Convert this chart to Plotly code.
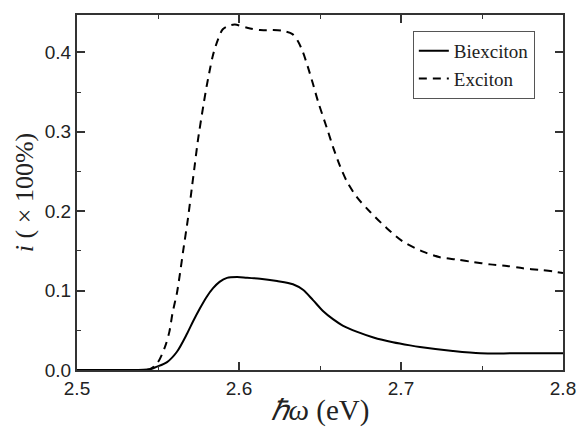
import plotly.graph_objects as go

bi_x = [2.500, 2.530, 2.545, 2.549, 2.5556, 2.5617, 2.568, 2.5716, 2.576, 2.580, 2.584, 2.588,
        2.5926, 2.5988, 2.605, 2.613, 2.6235, 2.6333, 2.6395, 2.6457, 2.652, 2.658, 2.664,
        2.673, 2.683, 2.695, 2.7056, 2.7117, 2.732, 2.749, 2.770, 2.800]
bi_y = [0.0, 0.0, 0.001, 0.004, 0.010, 0.023, 0.046, 0.061, 0.078, 0.092, 0.103, 0.111,
        0.116, 0.117, 0.116, 0.115, 0.112, 0.108, 0.101, 0.088, 0.074, 0.064, 0.056,
        0.048, 0.041, 0.035, 0.031, 0.029, 0.024, 0.021, 0.021, 0.021]

ex_x = [2.500, 2.530, 2.545, 2.550, 2.5543, 2.557, 2.559, 2.5617, 2.5636, 2.5654, 2.5685,
        2.571, 2.5728, 2.5747, 2.578, 2.580, 2.582, 2.584, 2.587, 2.590, 2.5944, 2.5975,
        2.605, 2.613, 2.621, 2.627, 2.633, 2.6364, 2.6395, 2.6426, 2.6457, 2.6488, 2.655,
        2.658, 2.6623, 2.6667, 2.673, 2.681, 2.691, 2.701, 2.7136, 2.724, 2.7346, 2.7444,
        2.755, 2.7654, 2.7753, 2.786, 2.794, 2.800]
ex_y = [0.0, 0.0, 0.001, 0.010, 0.029, 0.048, 0.072, 0.097, 0.122, 0.148, 0.191,
        0.231, 0.260, 0.290, 0.333, 0.357, 0.378, 0.397, 0.416, 0.429, 0.434, 0.435,
        0.431, 0.428, 0.428, 0.427, 0.423, 0.414, 0.400, 0.381, 0.360, 0.338, 0.300,
        0.281, 0.257, 0.237, 0.217, 0.199, 0.179, 0.162, 0.149, 0.142, 0.139, 0.136,
        0.133, 0.131, 0.128, 0.126, 0.124, 0.122]

x_ticks = [2.5, 2.6, 2.7, 2.8]
y_ticks = [0.0, 0.1, 0.2, 0.3, 0.4]

fig = go.Figure()
fig.add_trace(go.Scatter(x=bi_x, y=bi_y, mode="lines", name="Biexciton",
                         line=dict(color="black", width=2, shape="spline", smoothing=0.8)))
fig.add_trace(go.Scatter(x=ex_x, y=ex_y, mode="lines", name="Exciton",
                         line=dict(color="black", width=2, dash="8px,6px", shape="spline", smoothing=0.8)))

axis_common = dict(showgrid=False, zeroline=False, showline=True, linecolor="#333", linewidth=2,
                   mirror="ticks", ticks="inside", ticklen=8, tickwidth=1.5, tickcolor="#333",
                   automargin=False,
                   tickfont=dict(family="Liberation Sans, Arial", size=19, color="#222"))

fig.update_xaxes(range=[2.5, 2.8], tickvals=x_ticks, ticktext=[f"{v:.1f}" for v in x_ticks],
                 minor=dict(ticks="inside", dtick=0.05, ticklen=4, tickcolor="#333", tickwidth=1.2),
                 title=dict(text="<i>ℏω</i> (eV)", font=dict(family="Liberation Serif, Times New Roman", size=29, color="#222"), standoff=2),
                 **axis_common)
fig.update_yaxes(range=[0, 0.447], tickvals=y_ticks, ticktext=[f"{v:.1f}" for v in y_ticks],
                 minor=dict(ticks="inside", dtick=0.05, ticklen=4, tickcolor="#333", tickwidth=1.2),
                 title=dict(text="<i>i</i> ( × 100%)", font=dict(family="Liberation Serif, Times New Roman", size=26, color="#222"), standoff=4),
                 **axis_common)

fig.update_layout(
    width=579, height=429,
    margin=dict(l=77, r=16, t=15, b=59, autoexpand=False),
    plot_bgcolor="white", paper_bgcolor="white",
    showlegend=True,
    legend=dict(x=0.691, y=0.955, xanchor="left", yanchor="top",
                bordercolor="#555", borderwidth=1, bgcolor="white",
                font=dict(family="Liberation Serif, Times New Roman", size=19, color="#222"),
                tracegroupgap=0, itemwidth=30),
)

fig.write_html("out.html")
